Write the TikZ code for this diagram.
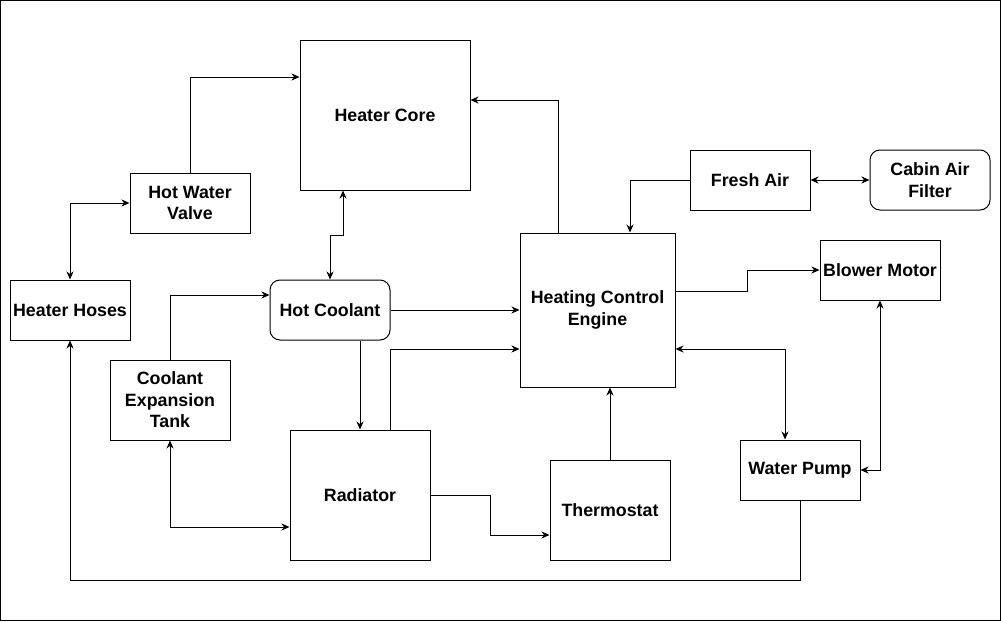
\documentclass[tikz,border=0pt]{standalone}
\usepackage{fontspec}
\setmainfont{Liberation Sans}
\usepackage{tikz}
\usetikzlibrary{arrows.meta}
\usetikzlibrary{calc}

\begin{document}
\begin{tikzpicture}[
            x = 1pt, y = -1pt, % pixel grid, y going down
            > = {Stealth[length=8pt,width=7pt,inset=2.5pt]}, % arrow head style
            line width = 1pt, % line style
            font = \fontsize{17.8}{21.5}\selectfont\bfseries
        ]

        \tikzstyle{block}=[
            draw,
            line width = 1pt,
            fill = white,
            align = center,
            inner sep = 0pt
        ]
        \tikzstyle{rblock}=[block, rounded corners = 10pt]

        % frame
        \useasboundingbox (0,0) rectangle (1001,621);
        \draw (0.5,0.5) rectangle (1000.5,620.5);

	% heater side
        \node[block, minimum width=170pt, minimum height=150pt] (HC) at (385,115) {Heater Core};
        \node[block, minimum width=120pt, minimum height=60pt] (HWV) at (190,203) {Hot Water\\Valve};
        \node[block, minimum width=120pt, minimum height=60pt] (HH) at (70,310) {Heater Hoses};

	% coolant
        \node[rblock, minimum width=120pt, minimum height=60pt] (HCo) at (330,310) {Hot Coolant};
        \node[block, minimum width=120pt, minimum height=80pt] (CET) at (170,400) {Coolant\\Expansion\\Tank};
        \node[block, minimum width=140pt, minimum height=130pt] (R) at (360,495) {Radiator};
        \node[block, minimum width=120pt, minimum height=100pt] (T) at (610,510) {Thermostat};

	% control
        \node[block, minimum width=155pt, minimum height=154pt] (HCE) at (597.5,310) {Heating Control\\Engine};

	% air side
        \node[block, minimum width=120pt, minimum height=60pt] (FA) at (750,180) {Fresh Air};
        \node[rblock, minimum width=120pt, minimum height=60pt] (CAF) at (930,180) {Cabin Air\\Filter};
        \node[block, minimum width=120pt, minimum height=60pt] (BM) at (880,270) {Blower Motor};
        \node[block, minimum width=120pt, minimum height=60pt] (WP) at (800,470) {Water Pump};

        % heater links
        \draw[->] (HWV.north) |- ([yshift=38pt]HC.west);
        \draw[<->] (HH.north) |- (HWV.west);
        \draw[<->] ([xshift=-42pt]HC.south) -- ++(0,-45pt) -| (HCo.north);
        \draw[->] ([xshift=-39.5pt]HCE.north) |- ([yshift=15pt]HC.east);

        % air links
        \draw[->] (FA.west) -| ([xshift=32.5pt]HCE.north);
        \draw[<->] (FA.east) -- (CAF.west);
        \draw[->] ([yshift=19pt]HCE.east) -- ++(72pt,0) |- (BM.west);
        \draw[<->] (BM.south) |- (WP.east);
        \draw[<->] ([yshift=-39pt]HCE.east) -| ([xshift=-15pt]WP.north);

        % coolant links
        \draw[->] (HCo.east) -- (HCE.west);
        \draw[->] (R.north |- HCo.south) -- (R.north);
        \draw[->] ([xshift=30pt]R.north) |- ([yshift=-39pt]HCE.west);
        \draw[->] (CET.north) |- ([yshift=15pt]HCo.west);
        \draw[<->] (CET.south) |- ([yshift=-32pt]R.west);
        \draw[->] (R.east) -- ++(60pt,0) |- ([yshift=-25pt]T.west);
        \draw[->] (T.north) -- (T.north |- HCE.south);
        \draw[->] (WP.south) -- ++(0,-80pt) -| (HH.south);

  \end{tikzpicture}
\end{document}
